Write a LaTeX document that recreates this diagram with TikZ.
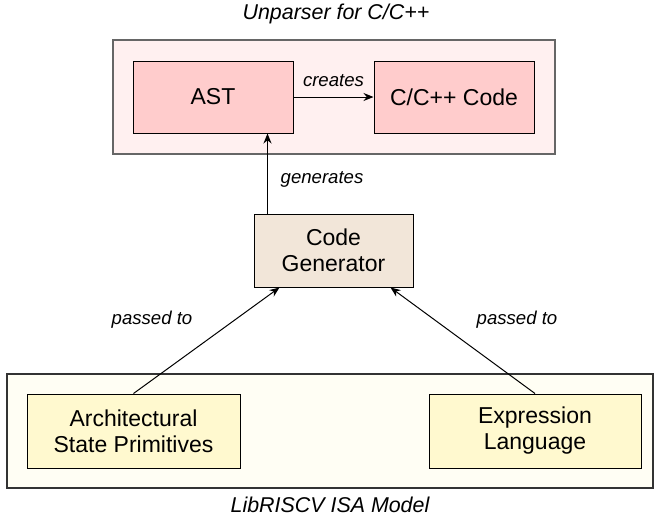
\documentclass[tikz,border=0pt]{standalone}
\usepackage{fontspec}
\setmainfont{Liberation Sans}
\usetikzlibrary{arrows.meta}

\definecolor{unparsefill}{HTML}{FFF0F0}
\definecolor{unparseline}{HTML}{666666}
\definecolor{astfill}{HTML}{FFCCCC}
\definecolor{genfill}{HTML}{F2E6D9}
\definecolor{isafill}{HTML}{FFFEF4}
\definecolor{isaline}{HTML}{333333}
\definecolor{primfill}{HTML}{FFF9CF}

\tikzset{
  block/.style={draw, line width=0.5pt, align=center, inner sep=0pt,
    font=\fontsize{11.5}{13}\selectfont},
  group/.style={draw, line width=0.6pt, inner sep=0pt},
  tag/.style={font=\fontsize{9.3}{11}\selectfont\itshape},
  caption/.style={font=\fontsize{10.7}{13}\selectfont\itshape},
  link/.style={line width=0.5pt, -{Stealth[length=5pt,width=4pt]}}
}

\begin{document}
\begin{tikzpicture}[x=0.5pt,y=-0.5pt]
  \useasboundingbox (0,0) rectangle (655,521);

  % containers
  \node[group, draw=unparseline, fill=unparsefill, minimum width=221pt, minimum height=57pt] (unparser) at (334,97) {};
  \node[group, draw=isaline, fill=isafill, minimum width=323pt, minimum height=57pt] (isa) at (330,431) {};
  \node[caption] (unparsertitle) at (336,14) {Unparser for C/C++};
  \node[caption] (isatitle) at (330,505) {LibRISCV ISA Model};

  % blocks
  \node[block, fill=astfill, minimum width=80pt, minimum height=36pt] (ast) at (213,97) {AST};
  \node[block, fill=astfill, minimum width=80pt, minimum height=36pt] (code) at (454,97) {C/C++ Code};
  \node[block, fill=genfill, minimum width=79.5pt, minimum height=36.5pt] (cg) at (333.5,250.5) {Code\\Generator};
  \node[block, fill=primfill, minimum width=106.5pt, minimum height=37pt] (arch) at (133.5,431) {Architectural\\State Primitives};
  \node[block, fill=primfill, minimum width=106pt, minimum height=37pt] (expr) at (535,431) {Expression\\Language};

  % connectors
  \draw[link] (ast) -- node[tag, above=1.5pt] (creates) {creates} (code);
  \draw[link] ([xshift=7pt]cg.north west) -- node[tag, pos=0.42, right=3pt] (generates) {generates} ([xshift=7pt]cg.north west |- ast.south);
  \draw[link] (arch.north) -- ([xshift=13pt]cg.south west);
  \draw[link] (expr.north) -- ([xshift=-11.5pt]cg.south east);
  \node[tag] (passleft) at (152,320) {passed to};
  \node[tag] (passright) at (517,320) {passed to};
\end{tikzpicture}
\end{document}
